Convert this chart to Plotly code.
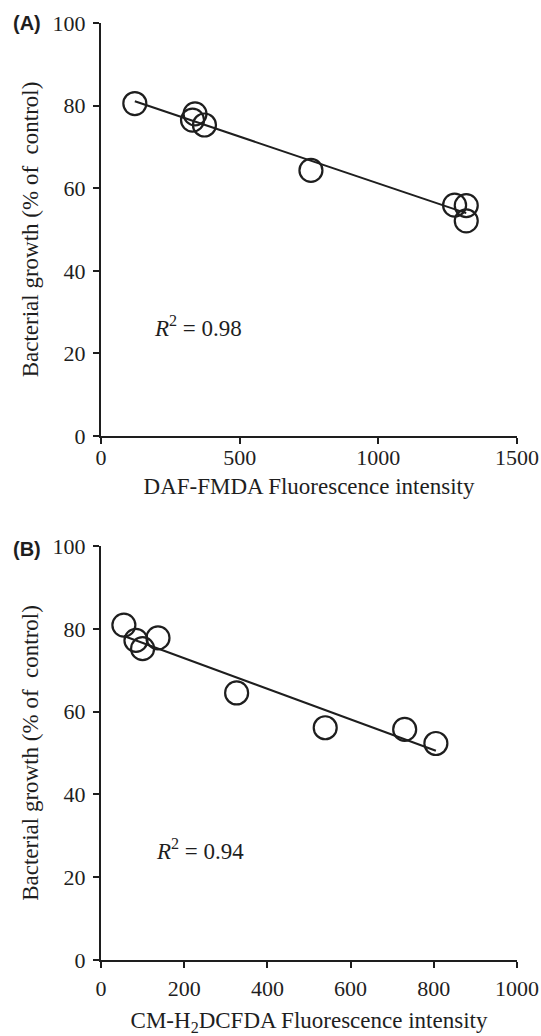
import numpy as np
import plotly.graph_objects as go

# Panel A data
a_x = [122, 339, 330, 373, 757, 1275, 1317, 1317]
a_y = [80.5, 78.0, 76.5, 75.3, 64.3, 55.9, 55.8, 52.1]
a_r2 = "0.98"

# Panel B data
b_x = [55, 84, 100, 137, 326, 539, 730, 805]
b_y = [80.9, 77.2, 75.2, 77.8, 64.5, 56.1, 55.7, 52.3]
b_r2 = "0.94"

a_xticks = [0, 500, 1000, 1500]
b_xticks = [0, 200, 400, 600, 800, 1000]
y_ticks = [0, 20, 40, 60, 80, 100]

a_xtitle = "DAF-FMDA Fluorescence intensity"
b_xtitle = "CM-H<sub>2</sub>DCFDA Fluorescence intensity"
ytitle = "Bacterial growth (% of  control)"

SERIF = "Liberation Serif"
SANS = "Liberation Sans"
W, H = 541, 1036
INK = "#1e1e1e"


def fit_line(xs, ys):
    k, c = np.polyfit(xs, ys, 1)
    lx = np.array([min(xs), max(xs)])
    return lx, k * lx + c


fig = go.Figure()
for xs, ys, xa, ya in [(a_x, a_y, "x", "y"), (b_x, b_y, "x2", "y2")]:
    lx, ly = fit_line(xs, ys)
    fig.add_trace(go.Scatter(x=lx, y=ly, mode="lines", xaxis=xa, yaxis=ya,
                             line=dict(color=INK, width=2), showlegend=False,
                             cliponaxis=False))
    fig.add_trace(go.Scatter(x=xs, y=ys, mode="markers", xaxis=xa, yaxis=ya,
                             marker=dict(symbol="circle-open", size=23, color=INK,
                                         line=dict(width=2.2, color=INK)),
                             showlegend=False, cliponaxis=False))

title_font = dict(family=SERIF, size=23, color=INK)
tick_font = dict(family=SERIF, size=22, color=INK)

xdom = [101 / W, 517 / W]
ya_dom = [1 - 436 / H, 1 - 23 / H]
yb_dom = [1 - 960 / H, 1 - 546 / H]

fig.update_layout(
    template="simple_white",
    width=W, height=H, margin=dict(l=0, r=0, t=0, b=0),
    plot_bgcolor="white", paper_bgcolor="white", showlegend=False,
    font=dict(family=SERIF, color=INK, size=21),
    xaxis=dict(domain=xdom, range=[0, 1500], tickvals=a_xticks, anchor="y",
               ticklabelstandoff=-5,
               title=dict(text=a_xtitle, font=title_font, standoff=8)),
    yaxis=dict(domain=ya_dom, range=[0, 100], tickvals=y_ticks, anchor="x",
               ticklabelstandoff=3,
               title=dict(text=ytitle, font=title_font, standoff=8)),
    xaxis2=dict(domain=xdom, range=[0, 1000], tickvals=b_xticks, anchor="y2",
                ticklabelstandoff=2,
                title=dict(text=b_xtitle, font=title_font, standoff=14)),
    yaxis2=dict(domain=yb_dom, range=[0, 100], tickvals=y_ticks, anchor="x2",
                ticklabelstandoff=3,
                title=dict(text=ytitle, font=title_font, standoff=8)),
)
common = dict(showline=True, linecolor=INK, linewidth=2, ticks="outside",
              ticklen=6, tickwidth=2, tickcolor=INK, showgrid=False,
              zeroline=False, automargin=False, mirror=False, tickfont=tick_font)
fig.update_xaxes(**common)
fig.update_yaxes(**common)

annos = [
    dict(text="<i>R</i><sup>2</sup> = " + a_r2, x=184, y=26.4, xref="x", yref="y"),
    dict(text="<i>R</i><sup>2</sup> = " + b_r2, x=127, y=26.6, xref="x2", yref="y2"),
]
for a in annos:
    fig.add_annotation(**a, xanchor="left", yanchor="middle", showarrow=False,
                       font=dict(family=SERIF, size=23, color=INK))

for lab, yp in [("(A)", 23), ("(B)", 549)]:
    fig.add_annotation(text="<b>" + lab + "</b>", x=11 / W, y=1 - yp / H, xref="paper", yref="paper",
                       xanchor="left", yanchor="middle", showarrow=False,
                       font=dict(family=SANS, size=20, color=INK))

fig.write_html("out.html")
